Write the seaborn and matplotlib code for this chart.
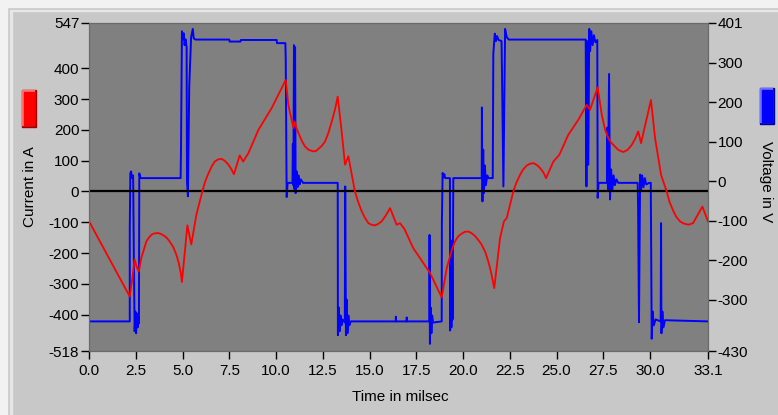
import matplotlib
matplotlib.use("Agg")
import matplotlib.pyplot as plt
import seaborn as sns
from matplotlib.patches import Rectangle

# Strom (rote Kurve, linke Achse)
time_current = [0.04, 2.18, 2.30, 2.44, 2.55, 2.66, 2.80, 2.95, 3.07, 3.20, 3.35, 3.50,
                3.69, 3.85, 4.00, 4.15, 4.31, 4.50, 4.67, 4.80, 4.90, 4.97, 5.26, 5.47,
                5.74, 6.06, 6.20, 6.36, 6.55, 6.72, 6.90, 7.08, 7.25, 7.43, 7.60, 7.75,
                8.06, 8.24, 8.52, 9.06, 9.77, 10.52, 10.66, 10.93, 11.00, 11.10, 11.28,
                11.40, 11.55, 11.75, 12.00, 12.15, 12.30, 12.45, 12.62, 12.80, 12.98,
                13.15, 13.30, 13.51, 13.69, 13.87, 14.22, 14.40, 14.58, 14.75, 14.94,
                15.10, 15.29, 15.45, 15.65, 15.85, 16.10, 16.45, 16.63, 16.86, 17.34,
                18.24, 18.86, 19.13, 19.40, 19.57, 19.75, 19.90, 20.10, 20.28, 20.45,
                20.65, 20.85, 21.00, 21.20, 21.35, 21.50, 21.67, 21.98, 22.19, 22.34,
                22.69, 22.85, 23.05, 23.20, 23.40, 23.58, 23.76, 23.95, 24.12, 24.30,
                24.44, 24.83, 25.15, 25.63, 26.17, 26.61, 26.79, 27.20, 27.42, 27.60,
                27.77, 27.90, 28.04, 28.30, 28.57, 28.80, 29.02, 29.20, 29.37, 29.52,
                30.05, 30.27, 30.59, 30.89, 31.05, 31.25, 31.40, 31.60, 31.80, 32.05,
                32.30, 32.80, 33.10]
current_a = [-101, -341, -290, -221, -245, -260, -215, -185, -162, -150, -140, -136,
             -135, -138, -143, -150, -162, -180, -205, -232, -262, -294, -110, -172,
             -76, 0, 30, 55, 80, 97, 104, 106, 100, 89, 74, 56,
             117, 97, 124, 200, 271, 362, 281, 206, 227, 205, 178,
             162, 146, 135, 130, 132, 140, 148, 162, 190, 227,
             265, 308, 195, 87, 114, 0, -35, -64, -85, -103,
             -108, -110, -106, -97, -80, -54, -108, -103, -121, -184,
             -265, -344, -249, -190, -162, -145, -138, -131, -130, -135,
             -145, -160, -173, -198, -227, -262, -314, -151, -97, -86,
             0, 28, 54, 70, 84, 90, 92, 86, 76, 62,
             43, 97, 119, 184, 233, 281, 265, 338, 249, 200,
             173, 160, 151, 135, 128, 135, 151, 170, 195, 157,
             297, 173, 54, 0, -35, -64, -82, -97, -104, -108,
             -103, -49, -97]

# Spannung (blaue Kurve, rechte Achse)
time_voltage = [0.00, 2.18, 2.18, 2.21, 2.25, 2.30, 2.36, 2.40, 2.44, 2.48, 2.52, 2.56,
                2.60, 2.64, 2.67, 2.69, 2.73, 2.78, 4.90, 4.92, 4.97, 5.02, 5.06, 5.11,
                5.16, 5.22, 5.24, 5.29, 5.36, 5.46, 5.55, 5.60, 5.70, 7.50, 7.52, 8.10,
                8.12, 10.04, 10.05, 10.50, 10.52, 10.57, 10.62, 10.88, 10.90, 10.93,
                10.96, 10.99, 11.02, 11.05, 11.10, 11.15, 11.20, 11.26, 11.32, 11.45,
                13.30, 13.31, 13.36, 13.40, 13.45, 13.50, 13.56, 13.68, 13.70, 13.74,
                13.78, 13.82, 13.87, 13.92, 14.00, 16.40, 16.41, 16.42, 16.98, 16.99,
                17.00, 18.20, 18.21, 18.23, 18.27, 18.31, 18.35, 18.40, 18.86, 18.87,
                18.91, 18.96, 19.00, 19.05, 19.30, 19.31, 19.35, 19.38, 19.41, 19.44,
                19.48, 19.54, 21.00, 21.01, 21.04, 21.08, 21.12, 21.17, 21.22, 21.30,
                21.35, 21.59, 21.62, 21.70, 21.76, 21.82, 21.90, 22.06, 22.08, 22.16,
                22.25, 22.34, 22.45, 26.56, 26.60, 26.64, 26.70, 26.75, 26.80, 26.86,
                26.93, 27.00, 27.08, 27.18, 27.20, 27.25, 27.70, 27.72, 27.75, 27.81,
                27.86, 27.92, 27.98, 28.05, 28.12, 28.20, 28.30, 29.34, 29.36, 29.41,
                29.44, 29.47, 29.52, 29.58, 29.65, 29.72, 29.80, 29.95, 30.04, 30.06,
                30.09, 30.14, 30.20, 30.30, 30.57, 30.59, 30.61, 30.66, 30.72, 30.80,
                33.10]
voltage_v = [-355, -355, -120, 20, 25, 8, 15, -200, -380, -330, -385, -335,
             -370, -345, -360, 20, 12, 8, 8, 85, 380, 360, 375, 345,
             360, 340, 0, -38, 240, 365, 386, 362, 359, 359, 354, 354,
             358, 358, 350, 350, 310, -40, -4, -4, 95, -10,
             345, -20, 340, -30, 25, -15, 15, -8, 5, -4,
             -4, -390, -320, -380, -340, -365, -350, -358, -13, -390,
             -300, -385, -340, -365, -355, -355, -343, -355, -355, -345,
             -355, -355, -136, -412, -320, -385, -340, -358, -355, -106,
             21, 10, 18, 8, 8, -378, -200, -370, -150, -350,
             8, 8, 8, 187, -51, 80, -30, 40, -10, 15,
             8, 8, 323, 374, 355, 368, 358, 355, 289, -13,
             386, 365, 359, 359, -13, 355, 42, 386, 330, 380,
             345, 370, 352, 358, -42, -4, -4, 136, -20, 272,
             -46, 30, -25, 15, -10, 5, -4, -4, -60, -357,
             -150, 17, -25, 15, -15, 8, -8, -4, -4, -180,
             -399, -330, -365, -350, -355, -106, -385, -330, -370, -352,
             -355]

x_ticks = [0.0, 2.5, 5.0, 7.5, 10.0, 12.5, 15.0, 17.5, 20.0, 22.5, 25.0, 27.5, 30.0, 33.1]
current_ticks = [547, 400, 300, 200, 100, 0, -100, -200, -300, -400, -518]
voltage_ticks = [401, 300, 200, 100, 0, -100, -200, -300, -430]

plt.rcParams['font.family'] = ['Liberation Sans', 'DejaVu Sans']
plt.rcParams['axes.unicode_minus'] = False

W, H = 778, 415
fig = plt.figure(figsize=(W / 100, H / 100), dpi=100, facecolor='#c8c8c8')

def px(x0, y0, x1, y1):
    return [x0 / W, 1 - y1 / H, (x1 - x0) / W, (y1 - y0) / H]

# Rahmen oben/links
fig.patches.append(Rectangle((0, 1 - 7 / H), 1, 7 / H, transform=fig.transFigure,
                             color='#f2f2f2', zorder=0))
fig.patches.append(Rectangle((0, 0), 7 / W, 1, transform=fig.transFigure,
                             color='#f2f2f2', zorder=0))
fig.patches.append(Rectangle((10 / W, 0), 1.5 / W, 1 - 10 / H, transform=fig.transFigure,
                             color='#e6e6e6', zorder=0))
fig.patches.append(Rectangle((10 / W, 1 - 11.5 / H), 1, 1.5 / H, transform=fig.transFigure,
                             color='#e6e6e6', zorder=0))

ax = fig.add_axes(px(89, 23, 708, 351))
ax2 = ax.twinx()
ax2.patch.set_visible(True)
ax2.set_facecolor('#808080')
ax.set_zorder(ax2.get_zorder() + 1)
ax.patch.set_visible(False)

sns.lineplot(x=time_voltage, y=voltage_v, ax=ax2, color='#0000ff', lw=1.4,
             estimator=None, sort=False)
ax.axhline(0, color='black', lw=1.6, zorder=1)
sns.lineplot(x=time_current, y=current_a, ax=ax, color='#ff0000', lw=1.3,
             estimator=None, sort=False, zorder=2)

ax.set_xlim(0, 33.1)
ax.set_ylim(-518, 547)
ax2.set_ylim(-430, 401)
ax.set_xticks(x_ticks)
ax.set_xticklabels([f"{v:.1f}" for v in x_ticks])
ax.set_yticks(current_ticks)
ax.set_yticklabels([str(v) for v in current_ticks])
ax2.set_yticks(voltage_ticks)
ax2.set_yticklabels([str(v) for v in voltage_ticks])

for a in (ax, ax2):
    a.tick_params(direction='out', length=6, width=1, colors='black',
                  labelsize=11, pad=1)
    for s in a.spines.values():
        s.set_color('#6a6a6a')
        s.set_linewidth(0.8)
ax.tick_params(axis='x', pad=3)
ax.set_xlabel('')
ax.set_ylabel('')
ax2.set_ylabel('')

fig.text(400 / W, 1 - 397 / H, 'Time in milsec', ha='center', va='center', fontsize=11)
fig.text(30 / W, 1 - 187 / H, 'Current in A', ha='center', va='center',
         rotation=90, fontsize=11)
fig.text(766 / W, 1 - 182 / H, 'Voltage in V', ha='center', va='center',
         rotation=-90, fontsize=11)

# Farbfelder der Legende
def swatch(x0, y0, x1, y1, main, light, dark):
    w, h = (x1 - x0) / W, (y1 - y0) / H
    fx, fy = x0 / W, 1 - y1 / H
    fig.patches.append(Rectangle((fx, fy), w, h, transform=fig.transFigure, color=dark))
    fig.patches.append(Rectangle((fx, fy + 2 / H), w - 2 / W, h - 2 / H,
                                 transform=fig.transFigure, color=light))
    fig.patches.append(Rectangle((fx + 2 / W, fy + 2 / H), w - 4 / W, h - 4 / H,
                                 transform=fig.transFigure, color=main))

swatch(22, 90, 36, 127, '#ff0000', '#ff7070', '#a00000')
swatch(760, 88, 774, 124, '#0000ff', '#7070ff', '#0000a0')

fig.savefig('out.png', dpi=100, facecolor=fig.get_facecolor())
